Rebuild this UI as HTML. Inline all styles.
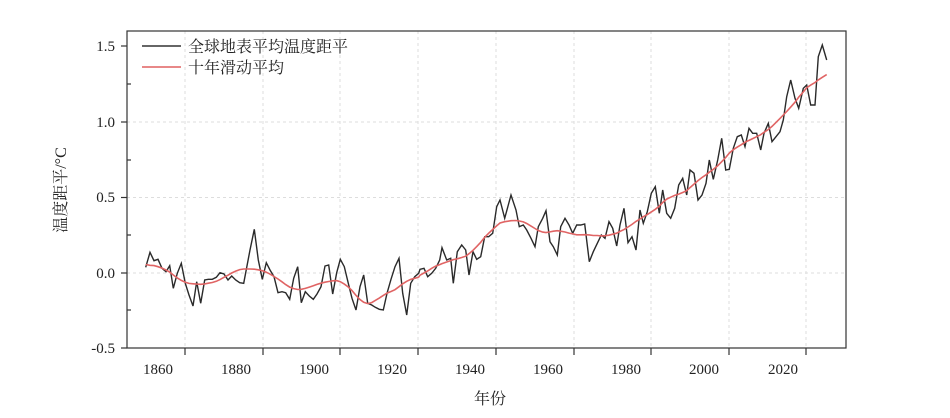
<!DOCTYPE html>
<html><head><meta charset="utf-8"><style>
body{margin:0;background:#fff;}
svg{display:block;font-family:"Liberation Serif","Noto Serif CJK SC",serif;}
</style></head><body>
<svg id="s" width="950" height="418" viewBox="0 0 950 418">
<g stroke="#ddd" stroke-dasharray="3,3" stroke-width="1">
<line x1="127" x2="846" y1="197.5" y2="197.5"/><line x1="127" x2="846" y1="273" y2="273"/><line x1="127" x2="846" y1="122" y2="122"/>
<line x1="185" x2="185" y1="31" y2="348"/><line x1="263" x2="263" y1="31" y2="348"/><line x1="340" x2="340" y1="31" y2="348"/><line x1="418" x2="418" y1="31" y2="348"/><line x1="496" x2="496" y1="31" y2="348"/><line x1="574" x2="574" y1="31" y2="348"/><line x1="651" x2="651" y1="31" y2="348"/><line x1="729" x2="729" y1="31" y2="348"/><line x1="806" x2="806" y1="31" y2="348"/>
</g>
<rect x="127" y="31" width="719" height="317" fill="none" stroke="#333" stroke-width="1.2"/>
<g stroke="#333" stroke-width="1.2">
<line x1="185" x2="185" y1="348" y2="355"/><line x1="263" x2="263" y1="348" y2="355"/><line x1="340" x2="340" y1="348" y2="355"/><line x1="418" x2="418" y1="348" y2="355"/><line x1="496" x2="496" y1="348" y2="355"/><line x1="574" x2="574" y1="348" y2="355"/><line x1="651" x2="651" y1="348" y2="355"/><line x1="729" x2="729" y1="348" y2="355"/><line x1="806" x2="806" y1="348" y2="355"/>
<line x1="121" x2="127" y1="46" y2="46"/><line x1="121" x2="127" y1="122" y2="122"/><line x1="121" x2="127" y1="197.5" y2="197.5"/><line x1="121" x2="127" y1="273" y2="273"/><line x1="121" x2="127" y1="348" y2="348"/>
<line x1="127" x2="131" y1="84" y2="84"/><line x1="127" x2="131" y1="160" y2="160"/><line x1="127" x2="131" y1="235" y2="235"/><line x1="127" x2="131" y1="310" y2="310"/>
</g>
<g font-size="15" fill="#222" text-anchor="end">
<text x="115" y="51">1.5</text><text x="115" y="127">1.0</text><text x="115" y="202">0.5</text><text x="115" y="278">0.0</text><text x="115" y="353">-0.5</text>
</g>
<g font-size="15" fill="#222" text-anchor="middle">
<text x="158" y="374">1860</text><text x="236" y="374">1880</text><text x="314" y="374">1900</text><text x="392" y="374">1920</text><text x="470" y="374">1940</text><text x="548" y="374">1960</text><text x="626" y="374">1980</text><text x="704" y="374">2000</text><text x="783" y="374">2020</text>
<text x="490" y="404" font-size="16">年份</text>
<text transform="translate(66,190) rotate(-90)" font-size="16">温度距平/°C</text>
</g>
<line x1="142" x2="181" y1="46" y2="46" stroke="#333" stroke-width="1.6"/>
<line x1="142" x2="181" y1="67" y2="67" stroke="#e06060" stroke-width="1.6"/>
<text x="188" y="52" font-size="16" fill="#222">全球地表平均温度距平</text>
<text x="188" y="73" font-size="16" fill="#222">十年滑动平均</text>
<polyline id="raw" fill="none" stroke="#2a2a2a" stroke-width="1.4"/>
<polyline id="ma" fill="none" stroke="#e06464" stroke-width="1.6"/>
</svg>
<script>
var z1=[[137,742],[150,697],[162,722],[174,718],[186,745],[198,755],[209,737],[220,805],[232,760],[244,730],[256,790],[267,825],[279,858],[290,785],[302,850],[314,780],[325,778],[337,778],[349,772],[360,758],[372,762],[384,780],[395,768],[407,780],[419,788],[431,790],[450,690],[463,628],[475,720],[487,778],[499,728],[510,750],[522,770],[534,818],[546,815],[557,818],[569,838],[581,775],[593,740],[604,848],[616,815],[628,828],[640,838],[651,822],[663,800],[675,738],[686,735],[698,822],[710,758],[721,718],[733,740],[745,790],[756,835],[768,870],[780,800],[791,765],[803,850],[815,855],[826,862],[838,868],[850,870],[861,820],[873,778],[885,740],[897,715],[908,820],[920,885],[932,790],[944,770],[956,760]];
var z2=[[0,748],[12,745],[23,770],[35,760],[47,745],[59,720],[66,683],[80,720],[92,715],[100,790],[112,695],[125,675],[137,690],[147,765],[159,695],[170,718],[182,710],[194,650],[206,650],[218,640],[230,560],[240,540],[254,595],[273,525],[288,570],[298,620],[310,615],[320,630],[333,655],[345,680],[355,620],[368,595],[378,572],[390,665],[400,680],[412,705],[422,620],[435,595],[447,615],[458,640],[470,615],[482,615],[494,612],[508,725],[520,695],[532,670],[544,645],[555,655],[567,605],[578,625],[590,678],[600,615],[612,565],[624,668],[636,650],[648,690],[660,570],[670,610],[682,575],[694,520],[706,500],[718,580],[728,510],[740,580],[752,595],[764,565],[776,495],[788,475],[800,525],[810,450],[822,460],[834,540],[846,525],[858,490],[868,420],[880,478],[893,420],[905,355],[917,450],[928,448],[940,385],[952,350],[964,345],[975,380],[987,325],[998,340],[1010,340],[1022,390],[1032,340],[1045,310],[1056,365],[1068,350],[1080,335],[1090,300],[1100,230],[1112,180],[1125,235],[1136,265],[1150,205],[1160,195],[1172,255],[1185,255],[1195,110],[1207,75],[1220,120]];
var p=[];z1.forEach(function(a){p.push([100+a[0]/3,20+a[1]/3]);});z2.forEach(function(a){p.push([420+a[0]/3,20+a[1]/3]);});
document.getElementById('raw').setAttribute('points',p.map(function(a){return a[0].toFixed(1)+','+a[1].toFixed(1)}).join(' '));
function sm(arr,w){var o=[];for(var i=0;i<arr.length;i++){var s=0,n=0;for(var j=i-w;j<=i+w;j++){if(j>=0&&j<arr.length){s+=arr[j];n++;}}o.push(s/n);}return o;}
var ys=p.map(function(a){return a[1]});var m=sm(sm(ys,5),2);
var n=m.length;for(var k=0;k<5;k++){m[n-1-k]=m[n-6]+(m[n-6]-m[n-11])/5*(5-k)*0.55;}
for(var i=0;i<n;i++){var x=p[i][0];if(x>335&&x<395){var d=Math.cos((x-365)/30*Math.PI/2);m[i]+=8*d*d;}}
document.getElementById('ma').setAttribute('points',p.map(function(a,i){return a[0].toFixed(1)+','+m[i].toFixed(1)}).join(' '));
</script>
</body></html>
